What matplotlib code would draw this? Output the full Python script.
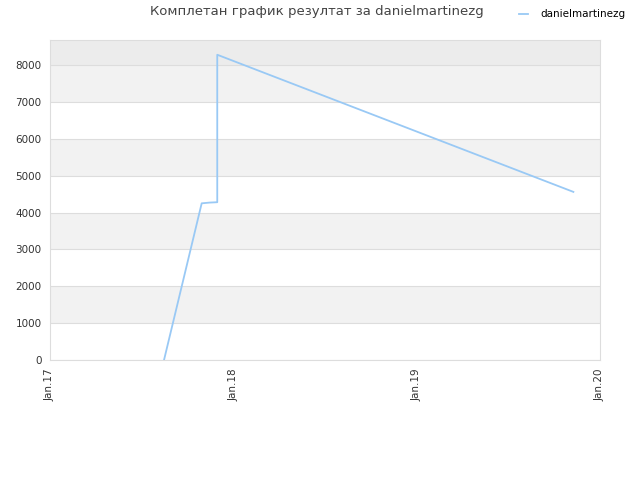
import matplotlib
matplotlib.use("Agg")
import matplotlib.pyplot as plt
import matplotlib.dates as mdates
import datetime as dt

title = "Комплетан график резултат за danielmartinezg"
series_name = "danielmartinezg"
dates = ["2017-08-16", "2017-10-30", "2017-11-15", "2017-11-30", "2017-11-30",
         "2017-11-30", "2017-11-30", "2017-11-30", "2017-11-30", "2017-11-30", "2019-11-09"]
values = [0, 4250, 4270, 4280, 4430, 5240, 6040, 6870, 7550, 8280, 4560]
xtick_dates = ["2017-01-01", "2018-01-01", "2019-01-01", "2020-01-01"]
xtick_labels = ["Jan.17", "Jan.18", "Jan.19", "Jan.20"]
yticks = [0, 1000, 2000, 3000, 4000, 5000, 6000, 7000, 8000]

to_d = lambda s: dt.datetime.strptime(s, "%Y-%m-%d")
x = [to_d(s) for s in dates]

fig = plt.figure(figsize=(6.4, 4.8), dpi=100)
ax = fig.add_axes([50/640, 1-360/480, 550/640, 320/480])
ymax = 8680
ax.set_xlim(to_d(xtick_dates[0]), to_d(xtick_dates[-1]))
ax.set_ylim(0, ymax)

# alternating bands
bounds = yticks + [ymax]
for i in range(len(bounds)-1):
    if i == len(bounds)-2:
        c = "#ececec"
    elif i % 2 == 1:
        c = "#f2f2f2"
    else:
        c = "#ffffff"
    ax.axhspan(bounds[i], bounds[i+1], color=c, zorder=0, lw=0)
for y in yticks:
    ax.axhline(y, color="#dddddd", lw=0.8, zorder=1)

ax.plot(x, values, color="#99c9f5", lw=1.3, zorder=3, label=series_name)

ax.set_xticks([to_d(s) for s in xtick_dates])
ax.set_xticklabels(xtick_labels, rotation=90, fontsize=7.5, color="#333333")
ax.set_yticks(yticks)
ax.set_yticklabels([str(v) for v in yticks], fontsize=7.5, color="#333333")
ax.tick_params(length=0, pad=6)
for s in ax.spines.values():
    s.set_color("#dddddd")
    s.set_linewidth(0.8)

fig.text(0.495, 0.975, title, ha="center", va="center", fontsize=9.5, color="#444444")
fig.legend(handles=ax.get_lines()[-1:], loc="center left", bbox_to_anchor=(0.797, 0.97),
           frameon=False, fontsize=7.5, handlelength=0.8, handletextpad=1.2)

fig.savefig("out.png", dpi=100)
